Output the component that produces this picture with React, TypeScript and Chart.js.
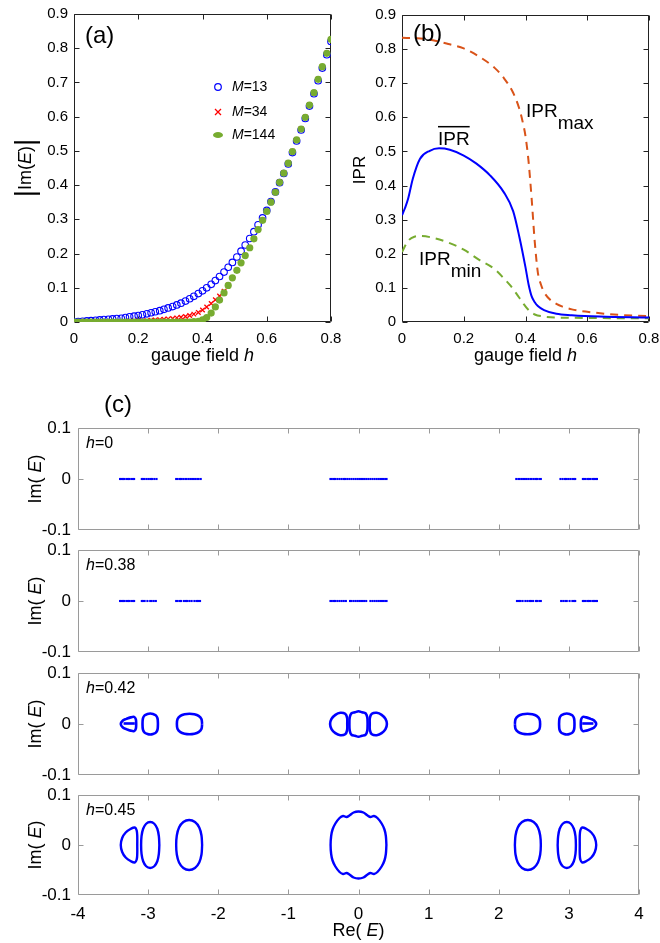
import React, { useEffect, useRef } from 'react';
import { Chart, registerables } from 'chart.js';
Chart.register(...registerables);

const FONT = '"Liberation Sans", Arial, Helvetica, sans-serif';

// ---------- Panel (a): |Im(E)| vs gauge field h ----------
const gaugeH = [0, 0.013, 0.027, 0.04, 0.053, 0.067, 0.08, 0.093, 0.107, 0.12,
  0.133, 0.147, 0.16, 0.173, 0.187, 0.2, 0.213, 0.227, 0.24, 0.253,
  0.267, 0.28, 0.293, 0.307, 0.32, 0.333, 0.347, 0.36, 0.373, 0.387,
  0.4, 0.413, 0.427, 0.44, 0.453, 0.467, 0.48, 0.493, 0.507, 0.52,
  0.533, 0.547, 0.56, 0.573, 0.587, 0.6, 0.613, 0.627, 0.64, 0.653,
  0.667, 0.68, 0.693, 0.707, 0.72, 0.733, 0.747, 0.76, 0.773, 0.787, 0.8];
const imM13 = [0, 0.001, 0.002, 0.003, 0.004, 0.005, 0.006, 0.007, 0.008, 0.009,
  0.010, 0.011, 0.013, 0.015, 0.017, 0.019, 0.021, 0.024, 0.027, 0.030,
  0.033, 0.037, 0.041, 0.045, 0.050, 0.055, 0.061, 0.068, 0.075, 0.083,
  0.091, 0.100, 0.110, 0.121, 0.133, 0.146, 0.160, 0.174, 0.190, 0.207,
  0.225, 0.244, 0.264, 0.284, 0.304, 0.326, 0.352, 0.380, 0.407, 0.434,
  0.462, 0.495, 0.529, 0.561, 0.595, 0.631, 0.667, 0.705, 0.742, 0.781, 0.820];
const imM34 = [0, 0, 0, 0, 0, 0, 0, 0, 0, 0,
  0, 0.001, 0.001, 0.002, 0.002, 0.003, 0.003, 0.004, 0.005, 0.006,
  0.007, 0.008, 0.009, 0.010, 0.012, 0.014, 0.016, 0.019, 0.023, 0.028,
  0.035, 0.044, 0.054, 0.065, 0.076, 0.090, 0.108, 0.129, 0.151, 0.173,
  0.195, 0.218, 0.244, 0.271, 0.298, 0.324, 0.351, 0.380, 0.409, 0.436,
  0.465, 0.499, 0.533, 0.565, 0.599, 0.635, 0.671, 0.710, 0.747, 0.786, 0.826];
const imM144 = [0, 0, 0, 0, 0, 0, 0, 0, 0, 0,
  0, 0, 0, 0, 0, 0, 0, 0, 0, 0,
  0, 0, 0, 0, 0, 0, 0, 0, 0.001, 0.002,
  0.006, 0.013, 0.026, 0.044, 0.064, 0.085, 0.107, 0.129, 0.151, 0.173,
  0.194, 0.217, 0.243, 0.270, 0.297, 0.323, 0.350, 0.379, 0.408, 0.435,
  0.464, 0.498, 0.532, 0.564, 0.598, 0.634, 0.670, 0.709, 0.746, 0.785, 0.826];
const seriesLabelsA = ['13', '34', '144'];
const gaugeTicks = [0, 0.2, 0.4, 0.6, 0.8];
const gaugeTickLabels = ['0', '0.2', '0.4', '0.6', '0.8'];
const unitTicks = [0, 0.1, 0.2, 0.3, 0.4, 0.5, 0.6, 0.7, 0.8, 0.9];
const unitTickLabels = ['0', '0.1', '0.2', '0.3', '0.4', '0.5', '0.6', '0.7', '0.8', '0.9'];

// ---------- Panel (b): IPR vs h ----------
const iprMaxH = [0, 0.05, 0.1, 0.15, 0.2, 0.25, 0.3, 0.33, 0.36, 0.38, 0.39, 0.4, 0.41, 0.42, 0.43, 0.44, 0.45, 0.46, 0.48, 0.5, 0.52, 0.55, 0.6, 0.7, 0.8];
const iprMax = [0.833, 0.832, 0.826, 0.815, 0.802, 0.778, 0.745, 0.715, 0.672, 0.625, 0.59, 0.545, 0.47, 0.36, 0.235, 0.145, 0.11, 0.088, 0.065, 0.053, 0.045, 0.037, 0.03, 0.021, 0.017];
const iprMeanH = [0, 0.01, 0.02, 0.035, 0.058, 0.09, 0.12, 0.155, 0.2, 0.24, 0.285, 0.33, 0.36, 0.38, 0.4, 0.41, 0.42, 0.43, 0.44, 0.46, 0.5, 0.55, 0.64, 0.8];
const iprMean = [0.313, 0.335, 0.362, 0.42, 0.478, 0.502, 0.509, 0.505, 0.488, 0.465, 0.43, 0.38, 0.325, 0.25, 0.16, 0.11, 0.075, 0.058, 0.047, 0.035, 0.024, 0.02, 0.016, 0.013];
const iprMinH = [0, 0.02, 0.04, 0.06, 0.1, 0.15, 0.2, 0.25, 0.3, 0.33, 0.35, 0.37, 0.39, 0.41, 0.43, 0.46, 0.5, 0.6, 0.7, 0.8];
const iprMin = [0.205, 0.238, 0.25, 0.252, 0.247, 0.233, 0.212, 0.182, 0.155, 0.128, 0.108, 0.084, 0.058, 0.035, 0.022, 0.016, 0.013, 0.012, 0.011, 0.011];

// ---------- Panel (c): complex spectra ----------
const reTicks = [-4, -3, -2, -1, 0, 1, 2, 3, 4];
const reTickLabels = ['-4', '-3', '-2', '-1', '0', '1', '2', '3', '4'];
const imETicks = [-0.1, 0, 0.1];
const imETickLabels = ['-0.1', '0', '0.1'];
const hValues = ['0', '0.38', '0.42', '0.45'];

const spectrumH0 = [-3.40, -3.38, -3.36, -3.34, -3.31, -3.29, -3.27, -3.24, -3.22, -3.20,
  -3.09, -3.07, -3.05, -3.02, -2.99, -2.96, -2.94, -2.91, -2.88,
  -2.60, -2.58, -2.55, -2.53, -2.50, -2.47, -2.45, -2.42, -2.39, -2.36, -2.33, -2.30, -2.28, -2.25,
  -0.40, -0.38, -0.35, -0.33, -0.30, -0.27, -0.24, -0.21, -0.19, -0.16, -0.13, -0.10, -0.07, -0.04, -0.01,
  0.02, 0.05, 0.08, 0.11, 0.14, 0.17, 0.20, 0.23, 0.26, 0.29, 0.32, 0.35, 0.38, 0.40,
  2.25, 2.28, 2.30, 2.33, 2.36, 2.39, 2.42, 2.45, 2.47, 2.50, 2.53, 2.55, 2.58, 2.60,
  2.88, 2.91, 2.94, 2.96, 2.99, 3.02, 3.05, 3.07, 3.09,
  3.20, 3.22, 3.24, 3.27, 3.29, 3.31, 3.34, 3.36, 3.38, 3.40];
const spectrumH038 = [-3.40, -3.38, -3.36, -3.34, -3.31, -3.29, -3.27, -3.24, -3.22, -3.20,
  -3.09, -3.07, -3.05, -3.01, -2.97, -2.95, -2.92, -2.89,
  -2.60, -2.58, -2.55, -2.53, -2.49, -2.46, -2.44, -2.41, -2.38, -2.34, -2.31, -2.29, -2.26,
  -0.40, -0.38, -0.35, -0.33, -0.30, -0.27, -0.24, -0.21, -0.18,
  -0.12, -0.10, -0.07, -0.04, -0.01, 0.02, 0.05, 0.08, 0.11,
  0.17, 0.20, 0.23, 0.26, 0.29, 0.32, 0.35, 0.38, 0.40,
  2.26, 2.29, 2.31, 2.34, 2.38, 2.41, 2.44, 2.46, 2.49, 2.53, 2.55, 2.58, 2.60,
  2.89, 2.92, 2.95, 2.97, 3.01, 3.05, 3.07, 3.09,
  3.20, 3.22, 3.24, 3.27, 3.29, 3.31, 3.34, 3.36, 3.38, 3.40];

const loopsH042: number[][][] = [
  [[-3.17, 0], [-3.175, 0.009], [-3.20, 0.014], [-3.25, 0.013], [-3.31, 0.010], [-3.36, 0.007], [-3.39, 0], [-3.36, -0.007], [-3.31, -0.010], [-3.25, -0.013], [-3.20, -0.014], [-3.175, -0.009], [-3.17, 0]],
  [[-3.35, 0.001], [-3.19, 0.001]],
  [[-2.86, 0], [-2.866, 0.011], [-2.89, 0.017], [-2.93, 0.0195], [-2.97, 0.0205], [-3.01, 0.0195], [-3.05, 0.017], [-3.074, 0.011], [-3.08, 0], [-3.074, -0.011], [-3.05, -0.017], [-3.01, -0.0195], [-2.97, -0.0205], [-2.93, -0.0195], [-2.89, -0.017], [-2.866, -0.011], [-2.86, 0]],
  [[-2.23, 0], [-2.24, 0.010], [-2.28, 0.016], [-2.34, 0.019], [-2.41, 0.020], [-2.48, 0.019], [-2.54, 0.016], [-2.58, 0.010], [-2.59, 0], [-2.58, -0.010], [-2.54, -0.016], [-2.48, -0.019], [-2.41, -0.020], [-2.34, -0.019], [-2.28, -0.016], [-2.24, -0.010], [-2.23, 0]],
  [[-0.16, 0], [-0.162, 0.012], [-0.19, 0.020], [-0.26, 0.022], [-0.33, 0.018], [-0.385, 0.010], [-0.405, 0], [-0.385, -0.010], [-0.33, -0.018], [-0.26, -0.022], [-0.19, -0.020], [-0.162, -0.012], [-0.16, 0]],
  [[0.13, 0], [0.125, 0.013], [0.10, 0.021], [0.05, 0.023], [0, 0.025], [-0.05, 0.023], [-0.10, 0.021], [-0.125, 0.013], [-0.13, 0], [-0.125, -0.013], [-0.10, -0.021], [-0.05, -0.023], [0, -0.025], [0.05, -0.023], [0.10, -0.021], [0.125, -0.013], [0.13, 0]],
  [[0.16, 0], [0.162, 0.012], [0.19, 0.020], [0.26, 0.022], [0.33, 0.018], [0.385, 0.010], [0.405, 0], [0.385, -0.010], [0.33, -0.018], [0.26, -0.022], [0.19, -0.020], [0.162, -0.012], [0.16, 0]],
  [[2.23, 0], [2.24, 0.010], [2.28, 0.016], [2.34, 0.019], [2.41, 0.020], [2.48, 0.019], [2.54, 0.016], [2.58, 0.010], [2.59, 0], [2.58, -0.010], [2.54, -0.016], [2.48, -0.019], [2.41, -0.020], [2.34, -0.019], [2.28, -0.016], [2.24, -0.010], [2.23, 0]],
  [[2.86, 0], [2.866, 0.011], [2.89, 0.017], [2.93, 0.0195], [2.97, 0.0205], [3.01, 0.0195], [3.05, 0.017], [3.074, 0.011], [3.08, 0], [3.074, -0.011], [3.05, -0.017], [3.01, -0.0195], [2.97, -0.0205], [2.93, -0.0195], [2.89, -0.017], [2.866, -0.011], [2.86, 0]],
  [[3.17, 0], [3.175, 0.009], [3.20, 0.014], [3.25, 0.013], [3.31, 0.010], [3.36, 0.007], [3.39, 0], [3.36, -0.007], [3.31, -0.010], [3.25, -0.013], [3.20, -0.014], [3.175, -0.009], [3.17, 0]],
  [[3.19, 0.001], [3.35, 0.001]],
];

const loopsH045: number[][][] = [
  [[-3.155, 0], [-3.155, 0.017], [-3.163, 0.029], [-3.19, 0.035], [-3.245, 0.0325], [-3.32, 0.025], [-3.37, 0.014], [-3.39, 0], [-3.37, -0.014], [-3.32, -0.025], [-3.245, -0.0325], [-3.19, -0.035], [-3.163, -0.029], [-3.155, -0.017], [-3.155, 0]],
  [[-2.84, 0], [-2.847, 0.0176], [-2.869, 0.0325], [-2.912, 0.0425], [-2.97, 0.046], [-3.028, 0.0425], [-3.071, 0.0325], [-3.094, 0.0176], [-3.10, 0], [-3.094, -0.0176], [-3.071, -0.0325], [-3.028, -0.0425], [-2.97, -0.046], [-2.912, -0.0425], [-2.869, -0.0325], [-2.847, -0.0176], [-2.84, 0]],
  [[-2.23, 0], [-2.239, 0.019], [-2.271, 0.035], [-2.332, 0.046], [-2.415, 0.05], [-2.498, 0.046], [-2.559, 0.035], [-2.591, 0.019], [-2.60, 0], [-2.591, -0.019], [-2.559, -0.035], [-2.498, -0.046], [-2.415, -0.05], [-2.332, -0.046], [-2.271, -0.035], [-2.239, -0.019], [-2.23, 0]],
  [[0.398, 0], [0.39, 0.018], [0.37, 0.031], [0.33, 0.043], [0.27, 0.054], [0.22, 0.058], [0.17, 0.056], [0.13, 0.059], [0.07, 0.065], [0, 0.067], [-0.07, 0.065], [-0.13, 0.059], [-0.17, 0.056], [-0.22, 0.058], [-0.27, 0.054], [-0.33, 0.043], [-0.37, 0.031], [-0.39, 0.018], [-0.398, 0],
    [-0.39, -0.018], [-0.37, -0.031], [-0.33, -0.043], [-0.27, -0.054], [-0.22, -0.058], [-0.17, -0.056], [-0.13, -0.059], [-0.07, -0.065], [0, -0.067], [0.07, -0.065], [0.13, -0.059], [0.17, -0.056], [0.22, -0.058], [0.27, -0.054], [0.33, -0.043], [0.37, -0.031], [0.39, -0.018], [0.398, 0]],
  [[2.23, 0], [2.239, 0.019], [2.271, 0.035], [2.332, 0.046], [2.415, 0.05], [2.498, 0.046], [2.559, 0.035], [2.591, 0.019], [2.60, 0], [2.591, -0.019], [2.559, -0.035], [2.498, -0.046], [2.415, -0.05], [2.332, -0.046], [2.271, -0.035], [2.239, -0.019], [2.23, 0]],
  [[2.84, 0], [2.847, 0.0176], [2.869, 0.0325], [2.912, 0.0425], [2.97, 0.046], [3.028, 0.0425], [3.071, 0.0325], [3.094, 0.0176], [3.10, 0], [3.094, -0.0176], [3.071, -0.0325], [3.028, -0.0425], [2.97, -0.046], [2.912, -0.0425], [2.869, -0.0325], [2.847, -0.0176], [2.84, 0]],
  [[3.155, 0], [3.155, 0.017], [3.163, 0.029], [3.19, 0.035], [3.245, 0.0325], [3.32, 0.025], [3.37, 0.014], [3.39, 0], [3.37, -0.014], [3.32, -0.025], [3.245, -0.0325], [3.19, -0.035], [3.163, -0.029], [3.155, -0.017], [3.155, 0]],
];

// ---------- colours ----------
const BLUE = '#0000ff';
const RED = '#ff0000';
const GREEN = '#77AC30';
const ORANGE = '#D95319';

// ---------- helpers ----------
type Part = { t: string; it?: boolean; sub?: boolean; over?: boolean; size?: number };
type TextItem = { x: number; y: number; size: number; parts: Part[]; align?: 'left' | 'center' | 'right'; rot?: number; color?: string };
type Sym = { x: number; y: number; kind: 'circle' | 'cross' | 'dot' };

function drawItem(ctx: CanvasRenderingContext2D, it: TextItem, ox: number, oy: number) {
  ctx.save();
  ctx.translate(it.x - ox, it.y - oy);
  if (it.rot) ctx.rotate(it.rot);
  ctx.fillStyle = it.color || '#000';
  ctx.textBaseline = 'middle';
  ctx.textAlign = 'left';
  const ms = it.parts.map((p) => {
    const sz = p.size || it.size;
    const font = `${p.it ? 'italic ' : ''}${sz}px ${FONT}`;
    ctx.font = font;
    return { p, font, w: ctx.measureText(p.t).width };
  });
  const total = ms.reduce((a, m) => a + m.w, 0);
  let x = it.align === 'center' ? -total / 2 : it.align === 'right' ? -total : 0;
  for (const m of ms) {
    ctx.font = m.font;
    const dy = m.p.sub ? it.size * 0.6 : 0;
    ctx.fillText(m.p.t, x, dy);
    if (m.p.over) ctx.fillRect(x, -it.size * 0.74, m.w, 1.5);
    x += m.w;
  }
  ctx.restore();
}

function makePlugin(cfg: { ox: number; oy: number; color: string; len: number; xTicks: number[]; yTicks: number[]; texts: TextItem[]; syms?: Sym[] }) {
  return {
    id: 'frameAndText',
    beforeDatasetsDraw(chart: any) {
      const { ctx, chartArea: ca } = chart;
      const xs = chart.scales.x;
      const ys = chart.scales.y;
      ctx.save();
      ctx.strokeStyle = cfg.color;
      ctx.lineWidth = 1;
      const l = Math.round(ca.left) + 0.5;
      const r = Math.round(ca.right) - 0.5;
      const t = Math.round(ca.top) + 0.5;
      const b = Math.round(ca.bottom) - 0.5;
      ctx.beginPath();
      ctx.rect(l, t, r - l, b - t);
      for (const v of cfg.xTicks) {
        const px = Math.round(xs.getPixelForValue(v)) + 0.5;
        ctx.moveTo(px, b); ctx.lineTo(px, b - cfg.len);
        ctx.moveTo(px, t); ctx.lineTo(px, t + cfg.len);
      }
      for (const v of cfg.yTicks) {
        const py = Math.round(ys.getPixelForValue(v)) + 0.5;
        ctx.moveTo(l, py); ctx.lineTo(l + cfg.len, py);
        ctx.moveTo(r, py); ctx.lineTo(r - cfg.len, py);
      }
      ctx.stroke();
      ctx.restore();
    },
    afterDraw(chart: any) {
      const ctx = chart.ctx as CanvasRenderingContext2D;
      for (const it of cfg.texts) drawItem(ctx, it, cfg.ox, cfg.oy);
      for (const s of cfg.syms || []) {
        const x = s.x - cfg.ox;
        const y = s.y - cfg.oy;
        ctx.save();
        ctx.beginPath();
        if (s.kind === 'circle') {
          ctx.strokeStyle = BLUE; ctx.lineWidth = 1.2;
          ctx.arc(x, y, 3.3, 0, Math.PI * 2); ctx.stroke();
        } else if (s.kind === 'cross') {
          ctx.strokeStyle = RED; ctx.lineWidth = 1.3;
          ctx.moveTo(x - 3, y - 3); ctx.lineTo(x + 3, y + 3);
          ctx.moveTo(x + 3, y - 3); ctx.lineTo(x - 3, y + 3); ctx.stroke();
        } else {
          ctx.fillStyle = GREEN;
          ctx.ellipse(x, y, 5, 3, 0, 0, Math.PI * 2); ctx.fill();
        }
        ctx.restore();
      }
    },
  };
}

function axis(min: number, max: number, ticks: number[], labels: string[], size: number, pad: number, fit: number, isX: boolean, showLabels = true) {
  return {
    type: 'linear',
    min, max,
    position: isX ? 'bottom' : 'left',
    afterBuildTicks: (s: any) => { s.ticks = ticks.map((v) => ({ value: v })); },
    afterFit: (s: any) => {
      if (isX) s.height = fit; else s.width = fit;
      s.paddingLeft = 0; s.paddingRight = 0; s.paddingTop = 0; s.paddingBottom = 0;
    },
    ticks: {
      display: showLabels, autoSkip: false, maxRotation: 0, minRotation: 0, padding: pad,
      color: '#000', font: { family: FONT, size },
      callback: (_v: any, i: number) => labels[i],
    },
    grid: { display: false, drawTicks: false },
    border: { display: false },
  };
}

function baseOptions(padding: any, scales: any) {
  return {
    responsive: false,
    maintainAspectRatio: false,
    animation: false,
    events: [],
    layout: { padding, autoPadding: false },
    plugins: { legend: { display: false }, tooltip: { enabled: false } },
    scales,
  };
}

function ChartBox({ left, top, width, height, make }: { left: number; top: number; width: number; height: number; make: () => any }) {
  const ref = useRef<HTMLCanvasElement>(null);
  useEffect(() => {
    const chart = new Chart(ref.current as HTMLCanvasElement, make());
    return () => chart.destroy();
  }, []);
  return (
    <div style={{ position: 'absolute', left, top, width, height }}>
      <canvas ref={ref} width={width} height={height} style={{ width, height, display: 'block' }} />
    </div>
  );
}

const ROT = -Math.PI / 2;

// ---------- panel (a) ----------
const A = { left: 0, top: 0, width: 345, height: 372 };
function makeA() {
  const pts = (ys: number[]) => gaugeH.map((x, i) => ({ x, y: ys[i] }));
  return {
    type: 'scatter',
    data: {
      datasets: [
        { label: 'M=' + seriesLabelsA[2], data: pts(imM144), pointStyle: 'circle', pointRadius: 3.6, backgroundColor: GREEN, borderColor: GREEN, borderWidth: 0 },
        { label: 'M=' + seriesLabelsA[1], data: pts(imM34), pointStyle: 'crossRot', pointRadius: 3.2, borderColor: RED, borderWidth: 1.3 },
        { label: 'M=' + seriesLabelsA[0], data: pts(imM13), pointStyle: 'circle', pointRadius: 3.3, backgroundColor: 'rgba(0,0,0,0)', borderColor: BLUE, borderWidth: 1.1 },
      ],
    },
    options: baseOptions({ left: 14, top: 14, right: 14, bottom: 20 }, {
      x: axis(0, 0.8, gaugeTicks, gaugeTickLabels, 15, 8, 30, true),
      y: axis(0, 0.9, unitTicks, unitTickLabels, 15, 6, 60, false),
    }),
    plugins: [makePlugin({
      ox: A.left, oy: A.top, color: '#222', len: 5, xTicks: gaugeTicks, yTicks: unitTicks,
      texts: [
        { x: 85, y: 36, size: 24, parts: [{ t: '(a)' }] },
        { x: 232, y: 87, size: 14, parts: [{ t: 'M', it: true }, { t: '=' + seriesLabelsA[0] }] },
        { x: 232, y: 112, size: 14, parts: [{ t: 'M', it: true }, { t: '=' + seriesLabelsA[1] }] },
        { x: 232, y: 135, size: 14, parts: [{ t: 'M', it: true }, { t: '=' + seriesLabelsA[2] }] },
        { x: 26, y: 168, size: 18, rot: ROT, align: 'center', parts: [{ t: '|', size: 28 }, { t: 'Im(' }, { t: 'E', it: true }, { t: ')' }, { t: '|', size: 28 }] },
        { x: 202.5, y: 356, size: 18, align: 'center', parts: [{ t: 'gauge field ' }, { t: 'h', it: true }] },
      ],
      syms: [{ x: 218, y: 87, kind: 'circle' }, { x: 218, y: 112, kind: 'cross' }, { x: 218, y: 135, kind: 'dot' }],
    })],
  };
}

// ---------- panel (b) ----------
const B = { left: 345, top: 0, width: 315, height: 372 };
function makeB() {
  const pts = (xs: number[], ys: number[]) => xs.map((x, i) => ({ x, y: ys[i] }));
  const line = { showLine: true, pointRadius: 0, borderWidth: 2, fill: false, cubicInterpolationMode: 'monotone' };
  return {
    type: 'scatter',
    data: {
      datasets: [
        { ...line, label: 'IPR mean', data: pts(iprMeanH, iprMean), borderColor: BLUE },
        { ...line, label: 'IPR max', data: pts(iprMaxH, iprMax), borderColor: ORANGE, borderDash: [8, 6] },
        { ...line, label: 'IPR min', data: pts(iprMinH, iprMin), borderColor: GREEN, borderDash: [8, 6] },
      ],
    },
    options: baseOptions({ left: 7, top: 15, right: 11, bottom: 20 }, {
      x: axis(0, 0.8, gaugeTicks, gaugeTickLabels, 15, 8, 30, true),
      y: axis(0, 0.9, unitTicks, unitTickLabels, 15, 6, 50, false),
    }),
    plugins: [makePlugin({
      ox: B.left, oy: B.top, color: '#222', len: 5, xTicks: gaugeTicks, yTicks: unitTicks,
      texts: [
        { x: 413, y: 34, size: 24, parts: [{ t: '(b)' }] },
        { x: 360, y: 170, size: 17, rot: ROT, align: 'center', parts: [{ t: 'IPR' }] },
        { x: 525.5, y: 356, size: 18, align: 'center', parts: [{ t: 'gauge field ' }, { t: 'h', it: true }] },
        { x: 526, y: 112, size: 19, parts: [{ t: 'IPR' }, { t: 'max', sub: true }] },
        { x: 438, y: 140, size: 19, parts: [{ t: 'IPR', over: true }] },
        { x: 419, y: 260, size: 19, parts: [{ t: 'IPR' }, { t: 'min', sub: true }] },
      ],
    })],
  };
}

// ---------- panel (c) ----------
const C = [
  { T: 428, Bt: 530, top: 390 },
  { T: 550, Bt: 652, top: 540 },
  { T: 673, Bt: 775, top: 663 },
  { T: 795, Bt: 895, top: 785 },
];

function makeC(i: number) {
  const c = C[i];
  const last = i === 3;
  const height = last ? 943 - c.top : c.Bt + 10 - c.top;
  let datasets: any[] = [];
  if (i < 2) {
    const sp = i === 0 ? spectrumH0 : spectrumH038;
    datasets = [{ label: 'h=' + hValues[i], data: sp.map((x) => ({ x, y: 0 })), pointStyle: 'rect', pointRadius: 1.5, backgroundColor: BLUE, borderColor: BLUE, borderWidth: 0 }];
  } else {
    const loops = i === 2 ? loopsH042 : loopsH045;
    datasets = loops.map((lp, k) => ({
      label: 'h=' + hValues[i] + ' #' + k,
      data: lp.map((p) => ({ x: p[0], y: p[1] })),
      showLine: true, pointRadius: 0, borderColor: BLUE, borderWidth: i === 2 ? 2.6 : 2.4, tension: 0.35, fill: false,
    }));
  }
  const zeroY = (c.T + c.Bt) / 2;
  const texts: TextItem[] = [
    { x: 36, y: zeroY, size: 18, rot: ROT, align: 'center', parts: [{ t: 'Im( ' }, { t: 'E', it: true }, { t: ')' }] },
    { x: 86, y: c.T + 16, size: 16, parts: [{ t: 'h', it: true }, { t: '=' + hValues[i] }] },
  ];
  if (i === 0) texts.push({ x: 104, y: 405, size: 24, parts: [{ t: '(c)' }] });
  if (last) texts.push({ x: 358.5, y: 931, size: 18, align: 'center', parts: [{ t: 'Re( ' }, { t: 'E', it: true }, { t: ')' }] });
  const padTop = c.T - c.top;
  const xFit = last ? 30 : 0;
  const padBottom = height - (c.Bt - c.top) - xFit;
  return {
    height,
    make: () => ({
      type: 'scatter',
      data: { datasets },
      options: baseOptions({ left: 8, top: padTop, right: 21, bottom: padBottom }, {
        x: axis(-4, 4, reTicks, reTickLabels, 17, 9, xFit, true, last),
        y: axis(-0.1, 0.1, imETicks, imETickLabels, 17, 7, 70, false),
      }),
      plugins: [makePlugin({ ox: 0, oy: c.top, color: '#9a9a9a', len: 5, xTicks: reTicks, yTicks: [0], texts })],
    }),
  };
}

export default function App() {
  const cs = [0, 1, 2, 3].map((i) => makeC(i));
  return (
    <div style={{ position: 'absolute', left: 0, top: 0, width: 660, height: 943, background: '#fff' }}>
      <ChartBox left={A.left} top={A.top} width={A.width} height={A.height} make={makeA} />
      <ChartBox left={B.left} top={B.top} width={B.width} height={B.height} make={makeB} />
      {cs.map((c, i) => (
        <ChartBox key={i} left={0} top={C[i].top} width={660} height={c.height} make={c.make} />
      ))}
    </div>
  );
}
